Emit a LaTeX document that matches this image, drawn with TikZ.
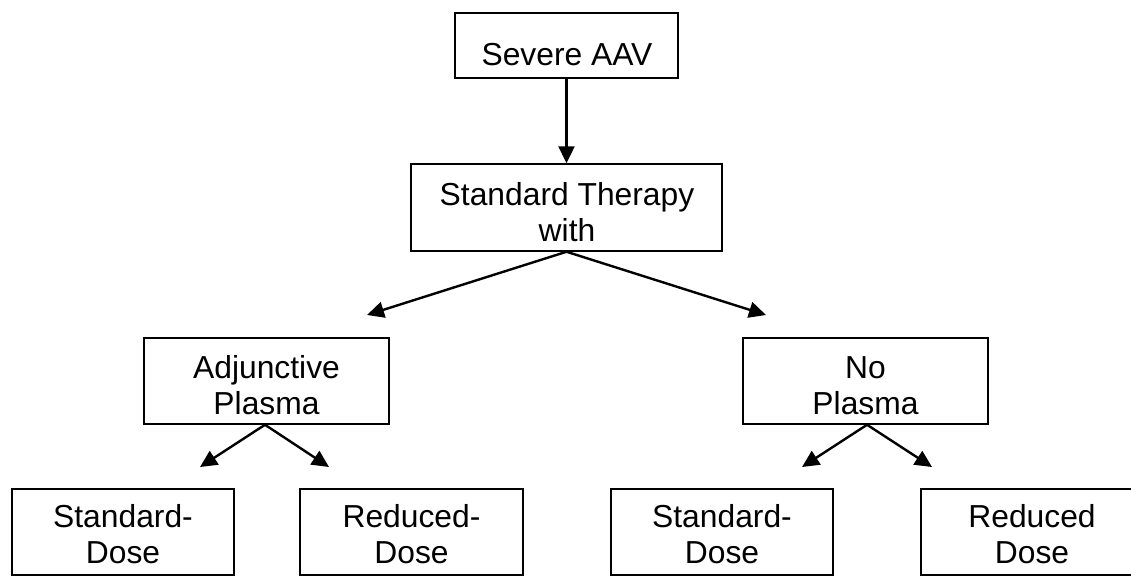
\documentclass[tikz,border=0pt]{standalone}
\usepackage{fontspec}
\setmainfont{Liberation Sans}
\usetikzlibrary{arrows.meta,calc}
\begin{document}
\begin{tikzpicture}[x=1pt,y=-1pt,
  box/.style={draw=black,line width=1.5pt,rectangle,inner sep=0pt,minimum height=86pt},
  txt/.style={anchor=base,align=center,inner sep=0pt,font=\fontsize{31.8}{36}\selectfont},
  conn/.style={line width=2.4pt,-{Triangle[length=17pt,width=16pt]}}]
\useasboundingbox (0,0) rectangle (1131,576);
\clip (0,0) rectangle (1131,576);
% boxes
\node[box,minimum width=223pt,minimum height=65pt] (aav) at (566.5,45.5) {};
\node[box,minimum width=311pt,minimum height=87pt] (std) at (566.5,207.5) {};
\node[box,minimum width=245pt] (adj) at (266.5,381) {};
\node[box,minimum width=245pt] (nop) at (865.5,381) {};
\node[box,minimum width=222pt] (sdA) at (123,532) {};
\node[box,minimum width=223pt] (rdA) at (411.5,532) {};
\node[box,minimum width=222pt] (sdB) at (722,532) {};
\node[box,minimum width=260pt] (rdB) at (1051,532) {};
% texts (base anchor = baseline of last line)
\node[txt] (aavt) at (567,65) {Severe AAV};
\node[txt] (stdt) at (567,241) {Standard Therapy\\with};
\node[txt] (adjt) at (266.5,414) {Adjunctive\\Plasma};
\node[txt] (nopt) at (865.5,414) {No\\Plasma};
\begin{scope}
\clip (0,0) rectangle (1131,566);
\node[txt] (sdAt) at (123,563) {Standard-\\Dose};
\node[txt] (rdAt) at (411.5,563) {Reduced-\\Dose};
\node[txt] (sdBt) at (722,563) {Standard-\\Dose};
\node[txt] (rdBt) at (1032,563) {Reduced\\Dose};
\end{scope}
% arrow end points
\coordinate (e1) at (367,315);
\coordinate (e2) at (766,315);
\coordinate (e3) at (200,467);
\coordinate (e4) at (329,467);
\coordinate (e5) at (802,467);
\coordinate (e6) at (932,467);
% connectors
\draw[conn] (aav.south) -- (std.north);
\draw[conn] (std.south) -- (e1);
\draw[conn] (std.south) -- (e2);
\draw[conn] ([xshift=-1.5pt]adj.south) -- (e3);
\draw[conn] ([xshift=-1.5pt]adj.south) -- (e4);
\draw[conn] ([xshift=1.5pt]nop.south) -- (e5);
\draw[conn] ([xshift=1.5pt]nop.south) -- (e6);
\end{tikzpicture}
\end{document}
